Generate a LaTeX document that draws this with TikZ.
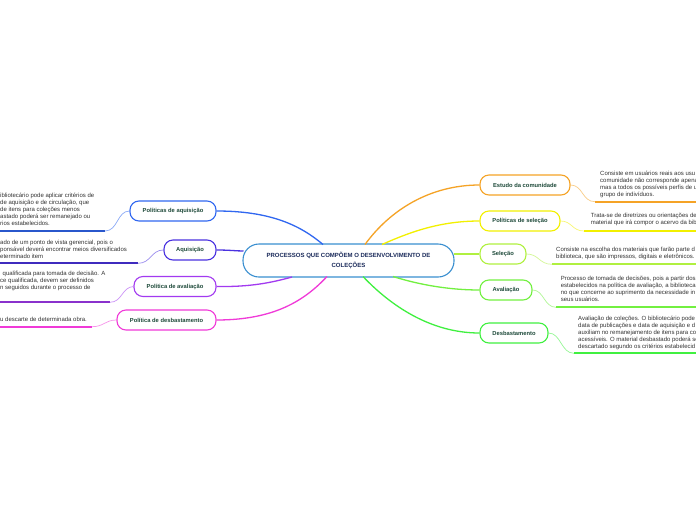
\documentclass[tikz,border=0pt]{standalone}
\usepackage{fontspec}
\setmainfont{Liberation Sans}
\definecolor{labelc}{HTML}{1E4A3A}
\definecolor{descc}{HTML}{333333}
\definecolor{centc}{HTML}{1A2A5A}
\definecolor{cblue}{HTML}{3A8FD0}
\definecolor{bA}{HTML}{3067F0}
\definecolor{bB}{HTML}{4A32E0}
\definecolor{bC}{HTML}{A23AF0}
\definecolor{bD}{HTML}{F03AD8}
\definecolor{rA}{HTML}{F5A326}
\definecolor{rB}{HTML}{F2F000}
\definecolor{rC}{HTML}{B0F040}
\definecolor{rD}{HTML}{72F040}
\definecolor{rE}{HTML}{40F040}
\begin{document}
\begin{tikzpicture}[x=1pt,y=-1pt,
  box/.style={draw, rounded corners=9pt, line width=1.1pt, fill=white, minimum height=20pt, inner sep=0pt, font=\fontsize{5.8}{6.5}\selectfont\bfseries, text=labelc},
  desc/.style={anchor=north west, align=left, inner sep=0pt, font=\fontsize{6}{7}\selectfont, text=descc},
  branch/.style={line width=1.3pt},
  link/.style={line width=0.7pt},
  uline/.style={line width=1.8pt}]
\useasboundingbox[fill=white] (0,0) rectangle (696,520);

% central node
\node[draw=cblue, line width=1.1pt, rounded corners=16pt, fill=white, minimum width=211pt, minimum height=33pt, inner sep=0pt, align=center, text=centc, font=\fontsize{6}{10}\selectfont\bfseries] (c) at (348.5,260.5) {PROCESSOS QUE COMPÕEM O DESENVOLVIMENTO DE\\COLEÇÕES};

% left nodes
\node[box, draw=bA, minimum width=86pt] (pa) at (173,211) {Políticas de aquisição};
\node[box, draw=bB, minimum width=52pt] (aq) at (190,250) {Aquisição};
\node[box, draw=bC, minimum width=82pt] (pv) at (175,286.5) {Política de avaliação};
\node[box, draw=bD, minimum width=99pt] (pd) at (166.5,320) {Política de desbastamento};

% right nodes
\node[box, draw=rA, minimum width=90pt] (ec) at (525,185) {Estudo da comunidade};
\node[box, draw=rB, minimum width=80pt] (ps) at (520,221) {Políticas de seleção};
\node[box, draw=rC, minimum width=46pt] (se) at (503,254) {Seleção};
\node[box, draw=rD, minimum width=52pt] (av) at (506,290) {Avaliação};
\node[box, draw=rE, minimum width=68pt] (de) at (514,333) {Desbastamento};

% attachment points on central node
\coordinate (c1) at (323,244.5);
\coordinate (c2) at (243.5,251);
\coordinate (c3) at (292,277);
\coordinate (c4) at (327,276.5);
\coordinate (c5) at (365,244.5);
\coordinate (c6) at (382,244.5);
\coordinate (c7) at (454,254);
\coordinate (c8) at (393,276.5);
\coordinate (c9) at (363,276.5);

% branches
\draw[branch, bA] (pa.east) .. controls (270,211) and (300,225) .. (c1);
\draw[branch, bB] (aq.east) .. controls (230,250) and (236,251) .. (c2);
\draw[branch, bC] (pv.east) .. controls (250,287) and (270,283) .. (c3);
\draw[branch, bD] (pd.east) .. controls (275,320) and (305,300) .. (c4);
\draw[branch, rA] (c5) .. controls (390,210) and (430,185) .. (ec.west);
\draw[branch, rB] (c6) .. controls (410,232) and (440,221) .. (ps.west);
\draw[branch, rC] (c7) -- (se.west);
\draw[branch, rD] (c8) .. controls (420,285) and (450,290) .. (av.west);
\draw[branch, rE] (c9) .. controls (390,305) and (430,333) .. (de.west);

% left descriptions
\coordinate (u1) at (105,231);
\node[desc] (d1) at (0,192.8) {ibliotecário pode aplicar critérios de\\de aquisição e de circulação, que\\de itens para coleções menos\\astado poderá ser remanejado ou\\rios estabelecidos.};
\draw[uline, bA!85!black] (0,231) -- (u1);
\draw[link, bA!55] (u1) .. controls (118,231) and (117,211) .. (pa.west);

\coordinate (u2) at (138,263.3);
\node[desc] (d2) at (0,240.3) {ado de um ponto de vista gerencial, pois o\\ponsável deverá encontrar meios diversificados\\eterminado item};
\draw[uline, bB!85!black] (0,263.3) -- (u2);
\draw[link, bB!55] (u2) .. controls (151,263.3) and (151,250) .. (aq.west);

\coordinate (u3) at (110,302.3);
\node[desc] (d3) at (0,271.3) {\hspace{2.5pt}qualificada para tomada de decisão. A\\ce qualificada, devem ser definidos\\n seguidos durante o processo de};
\draw[uline, bC!85!black] (0,302.3) -- (u3);
\draw[link, bC!55] (u3) .. controls (122,302.3) and (122,287) .. (pv.west);

\coordinate (u4) at (92,326.7);
\node[desc] (d4) at (0,317.1) {u descarte de determinada obra.};
\draw[uline, bD] (0,326.7) -- (u4);
\draw[link, bD!55] (u4) .. controls (104,326.7) and (105,320) .. (pd.west);

% right descriptions
\coordinate (v1) at (595,201.7);
\node[desc] (e1) at (600,171.1) {Consiste em usuários reais aos usu\\comunidade não corresponde apena\\mas a todos os possíveis perfis de u\\grupo de indivíduos.};
\draw[link, rA!55] (ec.east) .. controls (583,185) and (582,201.7) .. (v1);
\draw[uline, rA] (v1) -- (696,201.7);

\coordinate (v2) at (584,231);
\node[desc] (e2) at (590.7,213.1) {Trata-se de diretrizes ou orientações de\\material que irá compor o acervo da bib};
\draw[link, rB!55] (ps.east) .. controls (572,221) and (572,231) .. (v2);
\draw[uline, rB] (v2) -- (696,231);

\coordinate (v3) at (552,264.3);
\node[desc] (e3) at (556,247.1) {Consiste na escolha dos materiais que farão parte d\\biblioteca, que são impressos, digitais e eletrônicos.};
\draw[link, rC!55] (se.east) .. controls (539,254) and (539,264.3) .. (v3);
\draw[uline, rC] (v3) -- (696,264.3);

\coordinate (v4) at (556,307.3);
\node[desc] (e4) at (560.7,276.1) {Processo de tomada de decisões, pois a partir dos\\estabelecidos na política de avaliação, a biblioteca\\no que concerne ao suprimento da necessidade in\\seus usuários.};
\draw[link, rD!55] (av.east) .. controls (544,290) and (544,307.3) .. (v4);
\draw[uline, rD] (v4) -- (696,307.3);

\coordinate (v5) at (574,353.3);
\node[desc] (e5) at (578,315.4) {Avaliação de coleções. O bibliotecário pode\\data de publicações e data de aquisição e d\\auxiliam no remanejamento de itens para co\\acessíveis. O material desbastado poderá se\\descartado segundo os critérios estabelecid};
\draw[link, rE!55] (de.east) .. controls (561,333) and (561,353.3) .. (v5);
\draw[uline, rE] (v5) -- (696,353.3);
\end{tikzpicture}
\end{document}
